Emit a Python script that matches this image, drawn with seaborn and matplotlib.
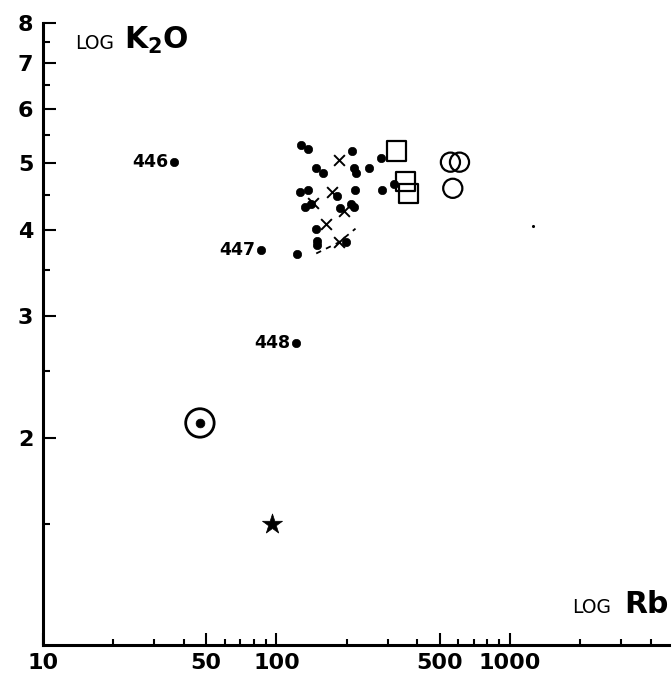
import matplotlib
matplotlib.use("Agg")
import matplotlib.pyplot as plt
import seaborn as sns
import pandas as pd
from matplotlib.ticker import FixedLocator, FixedFormatter, NullFormatter

sns.set_style("ticks")
plt.rcParams["font.family"] = ["DejaVu Sans"]
plt.rcParams["mathtext.fontset"] = "dejavusans"
for key in ["text.color", "axes.edgecolor", "xtick.color", "ytick.color",
            "axes.labelcolor"]:
    plt.rcParams[key] = "black"

# ---- data (Rb ppm, K2O %) ----
dot_rb = [127, 137, 211, 281, 147, 159, 215, 219, 249, 126, 136, 181, 217, 282, 319,
          133, 140, 188, 209, 215, 148, 149, 149, 199, 123]
dot_k2o = [5.31, 5.24, 5.21, 5.09, 4.92, 4.84, 4.92, 4.84, 4.92, 4.55, 4.57, 4.48, 4.57, 4.57, 4.67,
           4.32, 4.37, 4.30, 4.37, 4.32, 4.02, 3.86, 3.80, 3.84, 3.69]

label_names = ["446", "447", "448"]
label_rb = [36.4, 86, 121]
label_k2o = [5.03, 3.74, 2.74]

cross_rb = [186, 173, 143, 195, 163, 185]
cross_k2o = [5.05, 4.55, 4.38, 4.26, 4.08, 3.84]

bracket_rb = [148, 185, 218]
bracket_k2o = [3.70, 3.84, 4.02]

square_rb = [327, 357, 368]
square_k2o = [5.21, 4.70, 4.52]

circle_rb = [556, 608, 569]
circle_k2o = [5.02, 5.02, 4.60]

circled_rb = [47]
circled_k2o = [2.10]

star_rb = [95.8]
star_k2o = [1.50]

faint_rb = [1253]
faint_k2o = [4.06]

x_major = [10, 50, 100, 500, 1000]
x_major_labels = ["10", "50", "100", "500", "1000"]
x_minor = [20, 30, 40, 60, 70, 80, 90, 200, 300, 400, 600, 700, 800, 900, 2000, 3000, 4000]
y_major = [2, 3, 4, 5, 6, 7, 8]
y_major_labels = ["2", "3", "4", "5", "6", "7", "8"]
y_minor = [1.5, 2.5, 3.5, 4.5, 5.5, 6.5, 7.5]

# ---- figure ----
fig = plt.figure(figsize=(6.72, 6.76), dpi=100)
ax = fig.add_axes([43 / 672, 31 / 676, (669 - 43) / 672, (645 - 22.7) / 676])
ax.set_xscale("log")
ax.set_yscale("log")

dots = pd.DataFrame({"Rb": dot_rb + label_rb, "K2O": dot_k2o + label_k2o})
sns.scatterplot(data=dots, x="Rb", y="K2O", ax=ax, marker="o", s=36,
                color="black", edgecolor="black", linewidth=0.5)

sns.scatterplot(x=cross_rb, y=cross_k2o, ax=ax, marker="x", s=60,
                color="black", linewidth=1.4)
ax.plot(bracket_rb, bracket_k2o, color="black", lw=1.3, ls=(0, (3, 3)))

sns.scatterplot(x=square_rb, y=square_k2o, ax=ax, marker="s", s=190,
                facecolor="none", edgecolor="black", linewidth=1.6)
sns.scatterplot(x=circle_rb, y=circle_k2o, ax=ax, marker="o", s=190,
                facecolor="none", edgecolor="black", linewidth=1.6)

sns.scatterplot(x=circled_rb, y=circled_k2o, ax=ax, marker="o", s=420,
                facecolor="none", edgecolor="black", linewidth=2.0)
sns.scatterplot(x=circled_rb, y=circled_k2o, ax=ax, marker="o", s=40,
                color="black", edgecolor="black", linewidth=0.5)

sns.scatterplot(x=star_rb, y=star_k2o, ax=ax, marker="*", s=230,
                color="black", edgecolor="black", linewidth=0.5)
sns.scatterplot(x=faint_rb, y=faint_k2o, ax=ax, marker="o", s=5,
                color="black", edgecolor="black", linewidth=0)

for name, xv, yv in zip(label_names, label_rb, label_k2o):
    ax.annotate(name, (xv, yv), xytext=(-4, 0), textcoords="offset points",
                ha="right", va="center", fontsize=12.5, fontweight="bold")

ax.set_xlim(10, 4800)
ax.set_ylim(1, 8)

ax.xaxis.set_major_locator(FixedLocator(x_major))
ax.xaxis.set_major_formatter(FixedFormatter(x_major_labels))
ax.xaxis.set_minor_locator(FixedLocator(x_minor))
ax.xaxis.set_minor_formatter(NullFormatter())
ax.yaxis.set_major_locator(FixedLocator(y_major))
ax.yaxis.set_major_formatter(FixedFormatter(y_major_labels))
ax.yaxis.set_minor_locator(FixedLocator(y_minor))
ax.yaxis.set_minor_formatter(NullFormatter())

ax.tick_params(axis="x", which="major", direction="in", length=8.5, width=1.5,
               pad=6, labelsize=16, colors="black")
ax.tick_params(axis="x", which="minor", direction="in", length=4.5, width=1.5,
               colors="black")
ax.tick_params(axis="y", which="major", direction="in", length=9.5, width=1.5,
               pad=7, labelsize=16, colors="black")
ax.tick_params(axis="y", which="minor", direction="in", length=5, width=1.5,
               colors="black")
for lab in ax.get_xticklabels() + ax.get_yticklabels():
    lab.set_fontweight("bold")

sns.despine(ax=ax)
for side in ["left", "bottom"]:
    ax.spines[side].set_linewidth(2.2)
    ax.spines[side].set_color("black")
ax.set_xlabel("")
ax.set_ylabel("")

# axis titles
fig.text(75 / 672, 1 - 49.3 / 676, "LOG", fontsize=13.5, ha="left", va="baseline")
fig.text(124 / 672, 1 - 49.3 / 676, r"K$_{\mathbf{2}}$O", fontsize=21.5,
         fontweight="bold", ha="left", va="baseline")
fig.text(572 / 672, 1 - 613 / 676, "LOG", fontsize=13.5, ha="left", va="baseline")
fig.text(624 / 672, 1 - 613 / 676, "Rb", fontsize=21.5, fontweight="bold",
         ha="left", va="baseline")

fig.savefig("out.png", dpi=100)
